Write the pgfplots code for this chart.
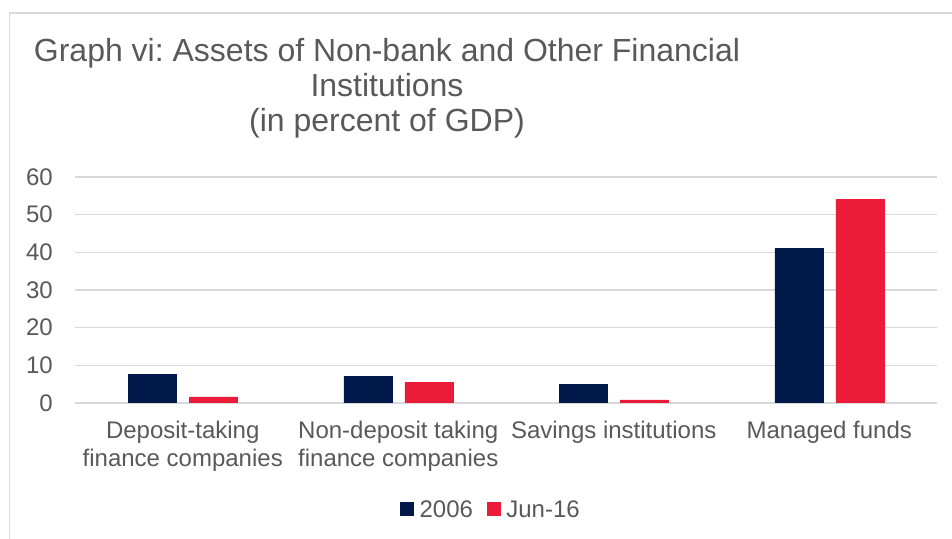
\documentclass[border=0pt]{standalone}
\usepackage{fontspec}
\setmainfont{Liberation Sans}
\usepackage{pgfplots}
\pgfplotsset{compat=1.18}
\frenchspacing

\definecolor{navy}{RGB}{0,24,74}
\definecolor{redbar}{RGB}{237,27,58}
\definecolor{gridgray}{RGB}{217,217,217}
\definecolor{framegray}{RGB}{217,217,217}
\definecolor{textgray}{RGB}{89,89,89}

\begin{document}
\begin{tikzpicture}
\path[use as bounding box] (0bp,0bp) rectangle (952bp,539bp);
\draw[framegray, line width=1.5bp] (9.5bp,-2bp) -- (9.5bp,526bp) -- (954bp,526bp);

% title, one node per line
\begin{scope}[every node/.style={anchor=base, text=textgray, inner sep=0pt,
    font=\fontsize{32bp}{35bp}\selectfont}]
\node at (387bp,477bp) {Graph vi: Assets of Non-bank and Other Financial};
\node at (387bp,442bp) {Institutions};
\node at (387bp,407bp) {(in percent of GDP)};
\end{scope}

\begin{axis}[
  at={(75bp,136bp)}, anchor=south west,
  scale only axis,
  width=862bp, height=226bp,
  xmin=-0.5, xmax=3.5,
  ymin=0, ymax=60,
  ytick={0,10,...,60},
  xtick={0,1,2,3},
  xticklabels={{Deposit-taking\\finance companies},{Non-deposit taking\\finance companies},{Savings institutions},{Managed funds}},
  ymajorgrids,
  grid style={gridgray, line width=1.2bp},
  axis line style={draw=none},
  major tick length=0pt,
  /pgf/number format/assume math mode=true,
  tick label style={text=textgray, font=\fontsize{24bp}{28bp}\selectfont},
  yticklabel style={anchor=east, inner sep=0pt, xshift=-22bp},
  xticklabel style={align=center, anchor=north, inner sep=0pt, yshift=-18bp},
  ybar=13bp, bar width=48bp,
  legend style={at={(0.4826,-0.473)}, anchor=center, draw=none, fill=none,
    legend columns=2, font=\fontsize{24bp}{28bp}\selectfont, text=textgray,
    /tikz/every odd column/.append style={column sep=4bp},
    /tikz/every even column/.append style={column sep=12bp},
    inner sep=0pt},
  legend image code/.code={\fill[#1] (0bp,-5bp) rectangle (13bp,8bp);},
]
\addplot[fill=navy, draw=navy] coordinates {(0,7.6) (1,7.0) (2,4.9) (3,41.0)};
\addplot[fill=redbar, draw=redbar] coordinates {(0,1.6) (1,5.5) (2,0.8) (3,54.0)};
\legend{2006, Jun-16}
\end{axis}
\end{tikzpicture}
\end{document}
